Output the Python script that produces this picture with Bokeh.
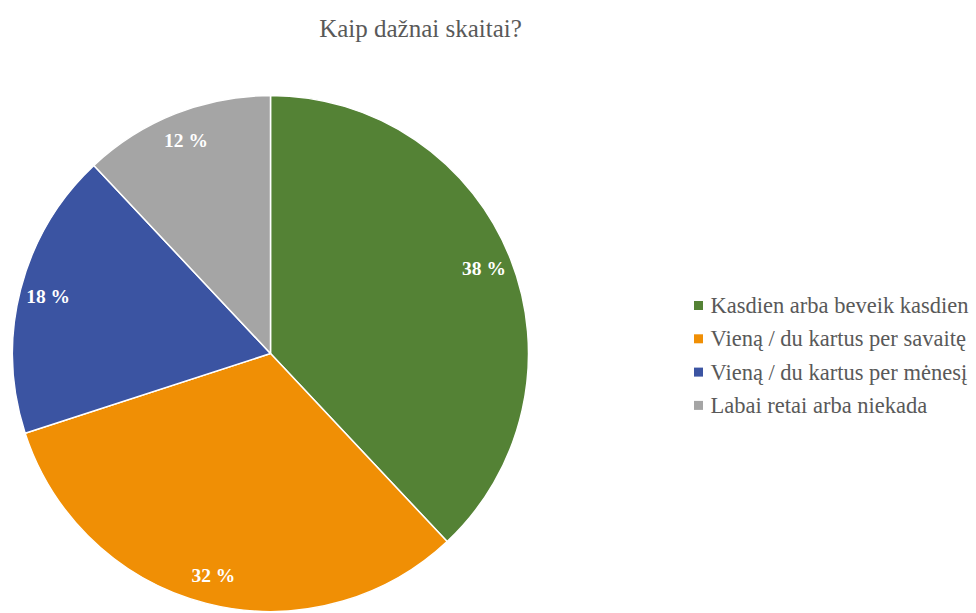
import numpy as np
from bokeh.plotting import figure
from bokeh.models import Range1d, ColumnDataSource
from bokeh.core.properties import value
from bokeh.embed import file_html
from bokeh.resources import INLINE

title = "Kaip dažnai skaitai?"
categories = ["Kasdien arba beveik kasdien", "Vieną / du kartus per savaitę",
              "Vieną / du kartus per mėnesį", "Labai retai arba niekada"]
shares = [38, 32, 18, 12]
colors = ["#548235", "#F08F05", "#3B54A2", "#A5A5A5"]
labels = [f"{v} %" for v in shares]

FONT = value("Liberation Serif")

W, H = 976, 613
p = figure(width=W, height=H, output_backend="svg", toolbar_location=None,
           x_range=Range1d(0, W), y_range=Range1d(0, H), min_border=0)
p.axis.visible = False
p.grid.visible = False
p.outline_line_color = None
p.background_fill_color = "white"

# title
p.text(x=[420], y=[H - 28], text=[title], text_color="#595959",
       text_font=FONT, text_font_size="25px",
       text_align="center", text_baseline="middle")

# pie geometry (pixel units, measured from top-left)
cx, cy, r = 270, H - 353, 258
frac = np.array(shares) / sum(shares)
cum = np.concatenate([[0], np.cumsum(frac)])
start = np.pi / 2 - cum[:-1] * 2 * np.pi
end = np.pi / 2 - cum[1:] * 2 * np.pi
mid = (start + end) / 2

src = ColumnDataSource(dict(start=start, end=end, color=colors,
                            lx=cx + 0.89 * r * np.cos(mid),
                            ly=cy + 0.89 * r * np.sin(mid),
                            label=labels))
p.wedge(x=cx, y=cy, radius=r, start_angle="end", end_angle="start",
        fill_color="color", line_color="white", line_width=1.5, source=src)
p.text(x="lx", y="ly", text="label", source=src, text_color="white",
       text_font=FONT, text_font_style="bold",
       text_font_size="19.5px", text_align="center", text_baseline="middle")

# legend
lx0, ltop, lstep = 698, H - 305, 33.3
ly = [ltop - i * lstep for i in range(len(categories))]
p.scatter(x=[lx0] * len(categories), y=ly, marker="square", size=9,
          fill_color=colors, line_color=None)
p.text(x=[lx0 + 12] * len(categories), y=ly, text=categories, text_color="#595959",
       text_font=FONT, text_font_size="22.5px",
       text_align="left", text_baseline="middle")

open("out.html", "w").write(file_html(p, INLINE))
